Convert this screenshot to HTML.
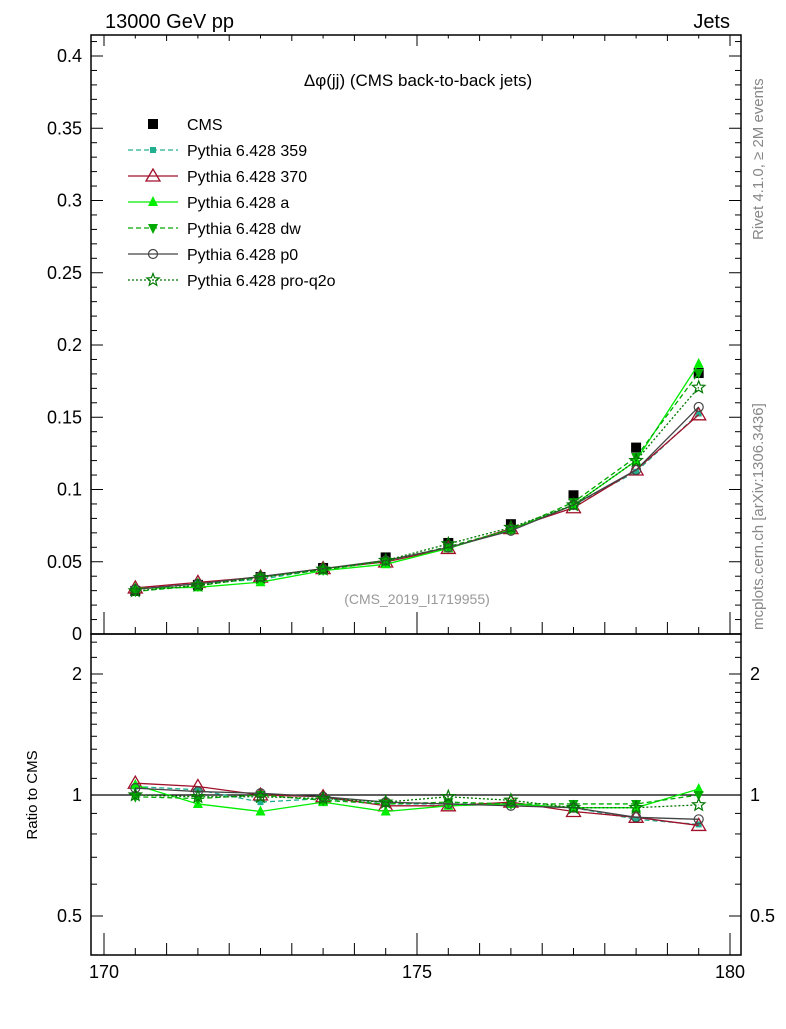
<!DOCTYPE html>
<html><head><meta charset="utf-8"><style>
body{margin:0;background:#fff}
svg{font-family:"Liberation Sans",sans-serif}
</style></head><body>
<svg id="c" width="786" height="1024" xmlns="http://www.w3.org/2000/svg">
<rect width="786" height="1024" fill="#fff"/>
<text x="105" y="28" font-size="20">13000 GeV pp</text>
<text x="730" y="28" font-size="20" text-anchor="end">Jets</text>
<text x="418" y="86" font-size="17" text-anchor="middle">Δφ(jj) (CMS back-to-back jets)</text>
<text x="417" y="604" font-size="14" fill="#999" text-anchor="middle">(CMS_2019_I1719955)</text>
<text transform="translate(763,240) rotate(-90)" font-size="15" fill="#888">Rivet 4.1.0, ≥ 2M events</text>
<text transform="translate(763,630) rotate(-90)" font-size="15" fill="#888">mcplots.cern.ch [arXiv:1306.3436]</text>
<text transform="translate(37,795) rotate(-90)" font-size="15" text-anchor="middle">Ratio to CMS</text>
<g id="g"></g>
</svg>
<script>
const bins=[170.5,171.5,172.5,173.5,174.5,175.5,176.5,177.5,178.5,179.5];
const cms=[0.0298,0.034,0.0394,0.0457,0.053,0.063,0.076,0.096,0.129,0.1806];
const r359=[1.05,1.03,0.96,0.98,0.95,0.95,0.95,0.93,0.87,0.845];
const r370=[1.07,1.05,1.0,0.99,0.94,0.94,0.96,0.91,0.88,0.84];
const rA=[1.06,0.95,0.91,0.96,0.91,0.94,0.95,0.93,0.93,1.035];
const rDW=[0.99,0.98,1.0,0.97,0.95,0.96,0.95,0.95,0.95,1.0];
const rP0=[1.04,1.02,1.01,0.99,0.96,0.95,0.94,0.93,0.88,0.87];
const rQ2O=[1.0,0.99,0.99,0.98,0.96,0.99,0.97,0.93,0.93,0.945];
const mainTicks=["0","0.05","0.1","0.15","0.2","0.25","0.3","0.35","0.4"];
const xTicks=["170","175","180"];
const ratioTicks=["0.5","1","2"];

const NS="http://www.w3.org/2000/svg",G=document.getElementById('g');
function el(t,a,p){const e=document.createElementNS(NS,t);for(const k in a)e.setAttribute(k,a[k]);(p||G).appendChild(e);return e;}
const L=91,R=741,T=35,M=634,B=955;
const X=v=>104+(v-170)*62.6;
const Y=v=>634-v*1445;
const YR=v=>795-Math.log2(v)*121;

let f=el('rect',{x:L,y:T,width:R-L,height:M-T,fill:'none',stroke:'#000','stroke-width':1.5});

f=el('rect',{x:L,y:M,width:R-L,height:B-M,fill:'none',stroke:'#000','stroke-width':1.5});

for(let i=0;i<=41;i++){const v=i*0.01,y=Y(v);if(y<T)break;const len=i%5==0?12:6;
 el('line',{x1:L,x2:L+len,y1:y,y2:y,stroke:'#000'});el('line',{x1:R,x2:R-len,y1:y,y2:y,stroke:'#000'});}
mainTicks.forEach((t,i)=>{const tx=el('text',{x:82,y:Y(i*0.05)+6,'font-size':18,'text-anchor':'end'});tx.textContent=t;
 });
for(let i=0;i<=20;i++){const v=170+i*0.5,x=X(v);const len=i%10==0?22:(i%2==0?12:7);
 [M,B].forEach(b=>el('line',{x1:x,x2:x,y1:b,y2:b-len,stroke:'#000'}));
 el('line',{x1:x,x2:x,y1:T,y2:T+len*0.5,stroke:'#000'});}
xTicks.forEach(t=>{const tx=el('text',{x:X(+t),y:978,'font-size':18,'text-anchor':'middle'});tx.textContent=t;
 });
[0.4,0.5,0.6,0.7,0.8,0.9,1,1.1,1.2,1.3,1.4,1.5,1.6,1.7,1.8,1.9,2,2.2,2.4].forEach(v=>{const y=YR(v);if(y<M||y>B)return;
 const len=(v==0.5||v==1||v==2)?12:6;el('line',{x1:L,x2:L+len,y1:y,y2:y,stroke:'#000'});el('line',{x1:R,x2:R-len,y1:y,y2:y,stroke:'#000'});});
ratioTicks.forEach(t=>{const y=YR(+t)+6;
 let tx=el('text',{x:82,y:y,'font-size':18,'text-anchor':'end'});tx.textContent=t;
 
 tx=el('text',{x:750,y:y,'font-size':18});tx.textContent=t;
 });
el('line',{x1:L,x2:R,y1:YR(1),y2:YR(1),stroke:'#000','stroke-width':1.2});

function marker(kind,x,y,c,parent){
 const s=5;let e;
 if(kind=='sq')e=el('rect',{x:x-s,y:y-s,width:2*s,height:2*s,fill:c},parent);
 else if(kind=='sqs')e=el('rect',{x:x-3,y:y-3,width:6,height:6,fill:c},parent);
 else if(kind=='tri')e=el('polygon',{points:`${x},${y-7} ${x-7},${y+5} ${x+7},${y+5}`,fill:'none',stroke:c,'stroke-width':1.3},parent);
 else if(kind=='trif')e=el('polygon',{points:`${x},${y-6} ${x-5},${y+4} ${x+5},${y+4}`,fill:c},parent);
 else if(kind=='trid')e=el('polygon',{points:`${x},${y+6} ${x-5},${y-4} ${x+5},${y-4}`,fill:c},parent);
 else if(kind=='circ')e=el('circle',{cx:x,cy:y,r:4.5,fill:'none',stroke:c,'stroke-width':1.2},parent);
 else if(kind=='star'){let p=[];for(let k=0;k<10;k++){const a=-Math.PI/2+k*Math.PI/5,rr=k%2?2.8:6.5;p.push((x+rr*Math.cos(a)).toFixed(1)+','+(y+rr*Math.sin(a)).toFixed(1));}
  e=el('polygon',{points:p.join(' '),fill:'none',stroke:c,'stroke-width':1.2},parent);}
 return e;
}
const series=[
 {n:'Pythia 6.428 359',r:r359,c:'#20b090',d:'5,3',m:'sqs',id:'359'},
 {n:'Pythia 6.428 370',r:r370,c:'#a0102a',d:'',m:'tri',id:'370'},
 {n:'Pythia 6.428 a',r:rA,c:'#00ee00',d:'',m:'trif',id:'a'},
 {n:'Pythia 6.428 dw',r:rDW,c:'#00aa00',d:'5,3',m:'trid',id:'dw'},
 {n:'Pythia 6.428 p0',r:rP0,c:'#444',d:'',m:'circ',id:'p0'},
 {n:'Pythia 6.428 pro-q2o',r:rQ2O,c:'#007700',d:'2,2',m:'star',id:'pro-q2o'}];
const cg=el('g',{});
bins.forEach((b,i)=>{marker('sq',X(b),Y(cms[i]),'#000',cg);});
el('line',{x1:X(bins[0]),x2:X(bins[0]),y1:YR(0.97),y2:YR(1.03),stroke:'#000'});
series.forEach(s=>{
 const g=el('g',{});
 const pm=bins.map((b,i)=>X(b)+','+Y(cms[i]*s.r[i])).join(' ');
 const pr=bins.map((b,i)=>X(b)+','+YR(s.r[i])).join(' ');
 el('polyline',{points:pm,fill:'none',stroke:s.c,'stroke-width':1.3,'stroke-dasharray':s.d},g);
 el('polyline',{points:pr,fill:'none',stroke:s.c,'stroke-width':1.3,'stroke-dasharray':s.d},g);
 bins.forEach((b,i)=>{marker(s.m,X(b),Y(cms[i]*s.r[i]),s.c,g);marker(s.m,X(b),YR(s.r[i]),s.c,g);});
});
const lg=el('g',{});
let e=el('g',{},lg);
marker('sq',153,124,'#000',e);let t=el('text',{x:187,y:130,'font-size':16},e);t.textContent='CMS';
series.forEach((s,i)=>{const y=150+i*26;const g=el('g',{},lg);
 
 el('line',{x1:128,x2:178,y1:y,y2:y,stroke:s.c,'stroke-width':1.3,'stroke-dasharray':s.d},g);
 marker(s.m,153,y,s.c,g);const tx=el('text',{x:187,y:y+6,'font-size':16},g);tx.textContent=s.n;});
</script>
</body></html>
